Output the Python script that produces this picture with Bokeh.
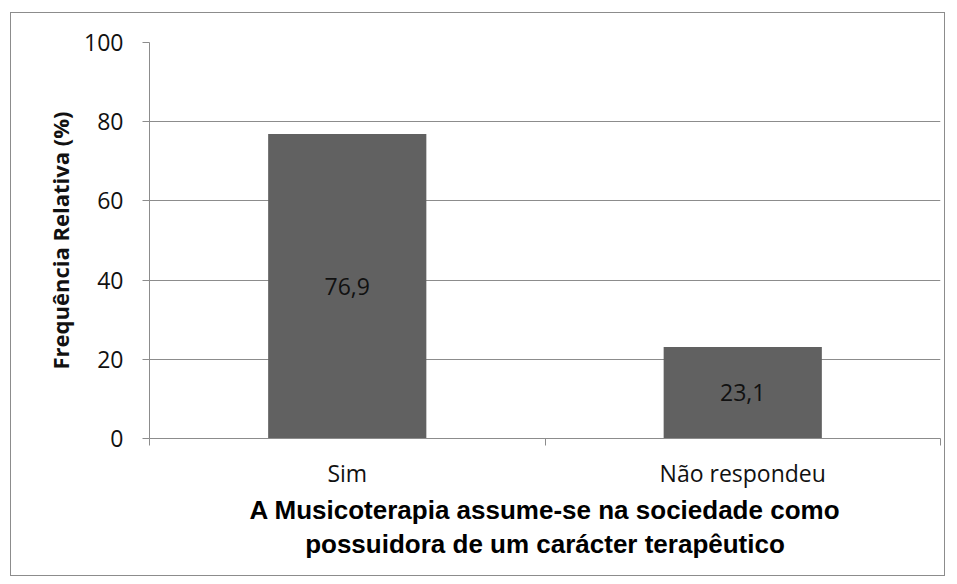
from bokeh.plotting import figure
from bokeh.models import ColumnDataSource, Range1d, FixedTicker
from bokeh.core.properties import value
from bokeh.embed import file_html
from bokeh.resources import INLINE

categories = ["Sim", "Não respondeu"]
values = [76.9, 23.1]
labels = ["76,9", "23,1"]
y_ticks = [0, 20, 40, 60, 80, 100]
x_title = "A Musicoterapia assume-se na sociedade como\npossuidora de um carácter terapêutico"
y_title = "Frequência Relativa (%)"

GRAY = "#8c8c8c"
BAR = "#616161"

n = len(categories)
centres = [i + 0.5 for i in range(n)]

p = figure(width=935, height=564,
           x_range=Range1d(0, n), y_range=Range1d(0, 100),
           output_backend="svg", toolbar_location=None,
           min_border_left=138, min_border_right=6,
           min_border_top=29, min_border_bottom=139,
           styles={"border": "1px solid " + GRAY, "margin": "12px 0 0 10px"})
p.outline_line_color = None
p.background_fill_color = "white"
p.border_fill_color = "white"

src = ColumnDataSource(dict(x=centres, cat=categories, val=values,
                            half=[v / 2 for v in values], lab=labels))
p.vbar(x="x", top="val", bottom=0, width=0.4, source=src,
       fill_color=BAR, line_color=None)
p.text(x="x", y="half", text="lab", source=src,
       text_align="center", text_baseline="middle",
       text_font=value("Open Sans"), text_font_size="23px", text_color="#111111")

# y axis
yax = p.yaxis[0]
yax.ticker = FixedTicker(ticks=y_ticks, minor_ticks=[])
yax.axis_line_color = GRAY
yax.major_tick_line_color = GRAY
yax.major_tick_out = 7
yax.major_tick_in = 0
yax.minor_tick_line_color = None
yax.major_label_text_font = "Open Sans"
yax.major_label_text_font_size = "23px"
yax.major_label_text_color = "#111111"
yax.major_label_standoff = 19
yax.axis_label = y_title
yax.axis_label_text_font = "Open Sans"
yax.axis_label_text_font_style = "bold"
yax.axis_label_text_font_size = "22px"
yax.axis_label_text_color = "#111111"
yax.axis_label_standoff = 6

p.ygrid.grid_line_color = GRAY
p.ygrid.ticker = FixedTicker(ticks=y_ticks)
p.xgrid.visible = False

# x axis: labels at category centres, tick marks at category edges
xax = p.xaxis[0]
xax.ticker = FixedTicker(ticks=centres, minor_ticks=list(range(n + 1)))
xax.major_label_overrides = {c: cat for c, cat in zip(centres, categories)}
xax.axis_line_color = GRAY
xax.major_tick_line_color = None
xax.minor_tick_line_color = GRAY
xax.minor_tick_out = 7
xax.minor_tick_in = 0
xax.major_label_text_font = "Open Sans"
xax.major_label_text_font_size = "23px"
xax.major_label_text_color = "#111111"
xax.major_label_standoff = 11
xax.axis_label = x_title
xax.axis_label_text_font = "Liberation Sans"
xax.axis_label_text_font_style = "bold"
xax.axis_label_text_font_size = "26px"
xax.axis_label_text_color = "#000000"
xax.axis_label_text_line_height = 1.15
xax.axis_label_standoff = 3

open("out.html", "w").write(file_html(p, INLINE))
